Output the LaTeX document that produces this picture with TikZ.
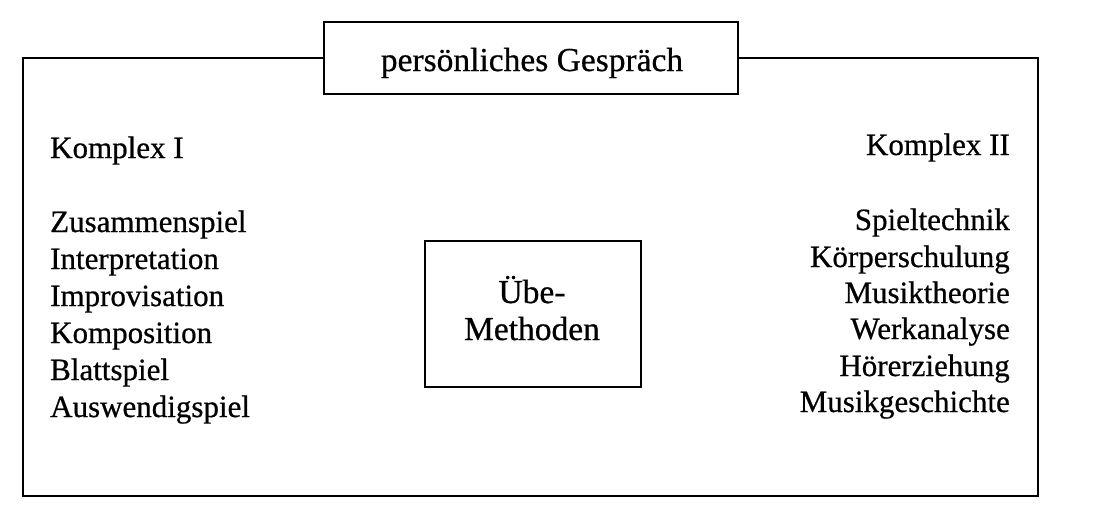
\documentclass[tikz,border=0pt]{standalone}
\usepackage{fontspec}
\setmainfont{Liberation Serif}[FakeBold=0.6]
\begin{document}
\begin{tikzpicture}[x=1pt,y=-1pt,
  txt/.style={font=\fontsize{31}{37}\selectfont, inner sep=0pt},
  bigtxt/.style={font=\fontsize{33.5}{40}\selectfont, inner sep=0pt},
  lft/.style={txt, anchor=base west},
  rgt/.style={txt, anchor=base east},
  frameline/.style={draw, line width=1.8pt},
  lbox/.style={draw, line width=1.8pt, fill=white, inner sep=0pt}]
\useasboundingbox[fill=white] (0,0) rectangle (1100,531);
% outer frame
\draw[frameline] (23,58) rectangle (1038,496);
% title box
\node[lbox, minimum width=414pt, minimum height=72pt, anchor=north west] (title) at (323,21) {};
\node[bigtxt, anchor=base] (titletxt) at (532,71) {persönliches Gespräch};
% middle box
\node[lbox, minimum width=216pt, minimum height=146pt, anchor=north west] (meth) at (424,240) {};
\node[bigtxt, anchor=base] (ube) at (532,303) {Übe-};
\node[bigtxt, anchor=base] (methoden) at (532,340) {Methoden};
% left column
\node[lft] (k1) at (50,158) {Komplex I};
\node[lft] (l1) at (50,232) {Zusammenspiel};
\node[lft] (l2) at (50,269) {Interpretation};
\node[lft] (l3) at (50,306) {Improvisation};
\node[lft] (l4) at (50,343) {Komposition};
\node[lft] (l5) at (50,380) {Blattspiel};
\node[lft] (l6) at (50,417) {Auswendigspiel};
% right column
\node[rgt] (k2) at (1010,155) {Komplex II};
\node[rgt] (r1) at (1010,230) {Spieltechnik};
\node[rgt] (r2) at (1010,267) {Körperschulung};
\node[rgt] (r3) at (1010,303) {Musiktheorie};
\node[rgt] (r4) at (1010,339) {Werkanalyse};
\node[rgt] (r5) at (1010,376) {Hörerziehung};
\node[rgt] (r6) at (1010,412) {Musikgeschichte};
\end{tikzpicture}
\end{document}
